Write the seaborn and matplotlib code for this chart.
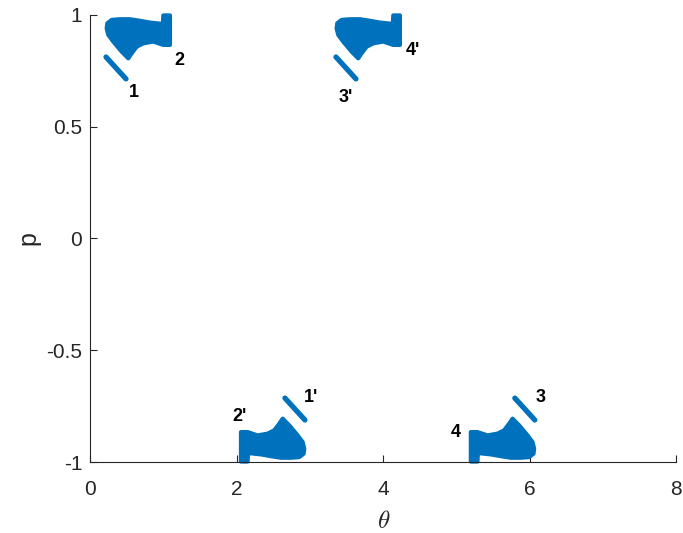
import matplotlib
matplotlib.use("Agg")
import matplotlib.pyplot as plt
import seaborn as sns
import pandas as pd

# Outline of each dense cluster of (theta, p) samples
theta_a = [0.230, 0.290, 0.403, 0.540, 0.676, 0.813, 0.990, 0.995, 1.086, 1.086,
           0.995, 0.858, 0.721, 0.631, 0.563, 0.516, 0.426, 0.311, 0.243, 0.221]
p_a = [0.963, 0.978, 0.981, 0.981, 0.974, 0.966, 0.960, 0.998, 0.998, 0.866,
       0.866, 0.881, 0.873, 0.858, 0.829, 0.806, 0.836, 0.881, 0.911, 0.940]

theta_b = [3.372, 3.432, 3.545, 3.682, 3.818, 3.955, 4.132, 4.137, 4.228, 4.228,
           4.137, 4.000, 3.863, 3.773, 3.705, 3.658, 3.568, 3.453, 3.385, 3.363]
p_b = [0.963, 0.978, 0.981, 0.981, 0.974, 0.966, 0.960, 0.998, 0.998, 0.866,
       0.866, 0.881, 0.873, 0.858, 0.829, 0.806, 0.836, 0.881, 0.911, 0.940]

theta_c = [2.912, 2.852, 2.739, 2.602, 2.466, 2.329, 2.152, 2.147, 2.056, 2.056,
           2.147, 2.284, 2.421, 2.511, 2.579, 2.626, 2.716, 2.831, 2.899, 2.921]
p_c = [-0.963, -0.978, -0.981, -0.981, -0.974, -0.966, -0.960, -0.998, -0.998, -0.866,
       -0.866, -0.881, -0.873, -0.858, -0.829, -0.806, -0.836, -0.881, -0.911, -0.940]

theta_d = [6.053, 5.993, 5.880, 5.743, 5.607, 5.470, 5.293, 5.288, 5.197, 5.197,
           5.288, 5.425, 5.562, 5.652, 5.720, 5.767, 5.857, 5.972, 6.040, 6.062]
p_d = [-0.963, -0.978, -0.981, -0.981, -0.974, -0.966, -0.960, -0.998, -0.998, -0.866,
       -0.866, -0.881, -0.873, -0.858, -0.829, -0.806, -0.836, -0.881, -0.911, -0.940]

# Thin isolated streaks next to each cluster
streak_theta = [[0.212, 0.485], [3.354, 3.627], [2.930, 2.657], [6.071, 5.798]]
streak_p = [[0.812, 0.714], [0.812, 0.714], [-0.812, -0.714], [-0.812, -0.714]]

# Peak labels
label_text = ["1", "2", "3'", "4'", "2'", "1'", "4", "3"]
label_theta = [0.59, 1.21, 3.49, 4.41, 2.04, 3.01, 4.99, 6.15]
label_p = [0.652, 0.797, 0.632, 0.840, -0.797, -0.712, -0.870, -0.712]

x_ticks = [0, 2, 4, 6, 8]
y_ticks = [-1, -0.5, 0, 0.5, 1]
y_tick_labels = ["-1", "-0.5", "0", "0.5", "1"]

blue = "#0072BD"
ink = "#262626"

sns.set_theme(style="ticks")
plt.rcParams["font.family"] = ["Liberation Sans", "DejaVu Sans"]
plt.rcParams["mathtext.fontset"] = "cm"

fig = plt.figure(figsize=(6.83, 5.33), dpi=100)
ax = fig.add_axes([0.1325, 0.1332, 0.8572, 0.8387])

for th, pv in [(theta_a, p_a), (theta_b, p_b), (theta_c, p_c), (theta_d, p_d)]:
    ax.fill(th, pv, color=blue, lw=3.0, joinstyle="round", clip_on=False, zorder=2)

for th, pv in zip(streak_theta, streak_p):
    df = pd.DataFrame({"theta": th, "p": pv})
    sns.lineplot(data=df, x="theta", y="p", sort=False, ax=ax, color=blue,
                 lw=3.8, solid_capstyle="round", clip_on=False, zorder=2)

for t, x, y in zip(label_text, label_theta, label_p):
    ax.text(x, y, t, fontsize=13, fontweight="bold", color="black",
            ha="center", va="center", zorder=3)

ax.set_xlim(0, 8)
ax.set_ylim(-1, 1)
ax.set_xticks(x_ticks)
ax.set_yticks(y_ticks)
ax.set_yticklabels(y_tick_labels)
ax.tick_params(direction="in", length=5, width=0.8, colors=ink,
               labelsize=15, labelcolor=ink)
ax.tick_params(axis="x", pad=13)
ax.tick_params(axis="y", pad=6)
for side in ["top", "right"]:
    ax.spines[side].set_visible(False)
for side in ["left", "bottom"]:
    ax.spines[side].set_color(ink)
    ax.spines[side].set_linewidth(0.8)

ax.set_xlabel(r"$\theta$", fontsize=18, color=ink, labelpad=7)
ax.set_ylabel("p", fontsize=18, color=ink, labelpad=4)

fig.savefig("out.png", dpi=100)
